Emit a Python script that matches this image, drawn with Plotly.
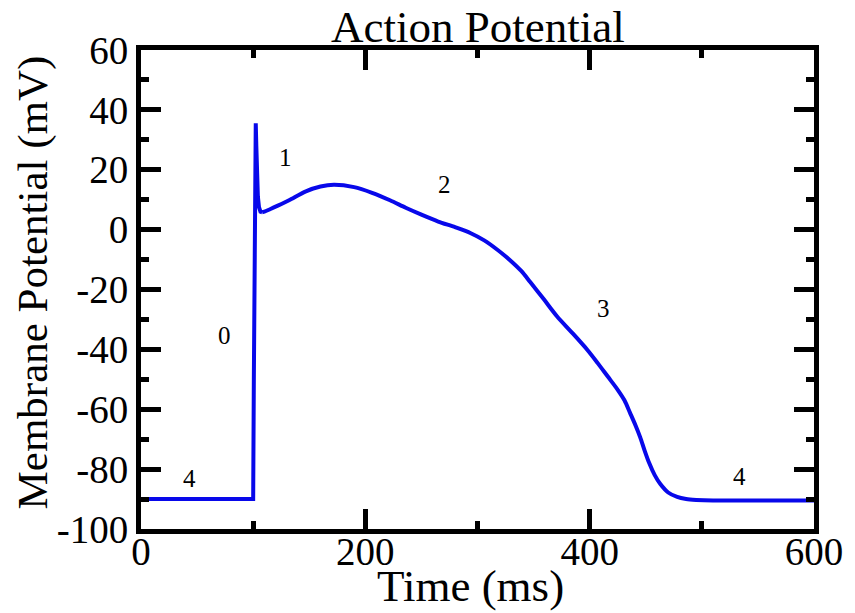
import plotly.graph_objects as go

# Ventricular action potential trace (time in ms, membrane potential in mV)
time_ms = [0, 100, 100.6, 101.2, 101.8, 102.3, 102.8, 103.4, 104.2, 105.2, 106.5, 108, 110,
           115, 122, 132, 147, 160, 172, 190, 206, 222, 236, 250, 265, 280, 294, 306, 318,
           329, 339, 347, 359, 371, 384, 398, 407, 416, 425, 431, 436, 441, 445, 449, 453,
           458, 463, 470, 478, 486, 495, 510, 540, 600]
voltage_mv = [-90, -90, -50, 0, 30, 35.5, 28, 18, 11, 7.5, 6, 5.8, 6,
              6.8, 8, 9.8, 12.8, 14.4, 15, 14.2, 12.3, 9.8, 7.3, 5, 2.7, 0.8, -1.2, -3.6, -6.8,
              -10.2, -13.8, -17.5, -23.2, -29, -34.3, -40.2, -44.5, -49, -53.5, -57, -61.2,
              -65.5, -69.3, -73.8, -77.9, -82, -85, -87.8, -89.3, -90, -90.3, -90.5, -90.5, -90.5]

# Phase labels of the action potential
phase_labels = ["0", "1", "2", "3", "4", "4"]
phase_t = [74, 129, 271, 412, 43, 534]
phase_v = [-35.5, 24, 15.2, -26.2, -83, -82.5]

serif = "Liberation Serif"
trace_color = "#0808ea"

# Upstroke and spike drawn with straight segments, the smooth remainder as a spline
split = time_ms.index(108)

fig = go.Figure()
fig.add_trace(go.Scatter(x=time_ms[:split + 1], y=voltage_mv[:split + 1], mode="lines",
                         line=dict(color=trace_color, width=4), showlegend=False,
                         hoverinfo="skip"))
fig.add_trace(go.Scatter(x=time_ms[split:], y=voltage_mv[split:], mode="lines",
                         line=dict(color=trace_color, width=4, shape="spline", smoothing=0.8),
                         showlegend=False, hoverinfo="skip"))

for lab, t, v in zip(phase_labels, phase_t, phase_v):
    fig.add_annotation(x=t, y=v, text=lab, showarrow=False,
                       font=dict(family=serif, size=25, color="black"))

axis_common = dict(showline=True, linecolor="black", linewidth=5, mirror="ticks",
                   ticks="inside", ticklen=20, tickwidth=5, tickcolor="black",
                   showgrid=False, zeroline=False,
                   tickfont=dict(family=serif, size=39, color="black"))

fig.update_xaxes(range=[0, 600], tickvals=[0, 200, 400, 600],
                 ticklabelstandoff=-16,
                 minor=dict(ticks="inside", dtick=100, ticklen=8, tickwidth=5,
                            tickcolor="black", showgrid=False),
                 **axis_common)
fig.update_yaxes(range=[-100, 60], tickvals=[-100, -80, -60, -40, -20, 0, 20, 40, 60],
                 ticktext=["-100", "-80", "-60", "-40", "-20", "0", "20", "40", "60"],
                 minor=dict(ticks="inside", dtick=10, ticklen=8, tickwidth=5,
                            tickcolor="black", showgrid=False),
                 **axis_common)

fig.add_annotation(xref="paper", yref="paper", x=0.5, y=1.104, text="Action Potential",
                   showarrow=False, xanchor="center", yanchor="top",
                   font=dict(family=serif, size=45, color="black"))
fig.add_annotation(xref="paper", yref="paper", x=0.49, y=-0.118, text="Time (ms)",
                   showarrow=False, xanchor="center", yanchor="middle",
                   font=dict(family=serif, size=45, color="black"))
fig.add_annotation(xref="paper", yref="paper", x=-0.161, y=0.514,
                   text="Membrane Potential (mV)", textangle=-90,
                   showarrow=False, xanchor="center", yanchor="middle",
                   font=dict(family=serif, size=43, color="black"))

fig.update_layout(width=855, height=613, margin=dict(l=141, r=37, t=50, b=84),
                  plot_bgcolor="white", paper_bgcolor="white")

fig.write_html("out.html")
